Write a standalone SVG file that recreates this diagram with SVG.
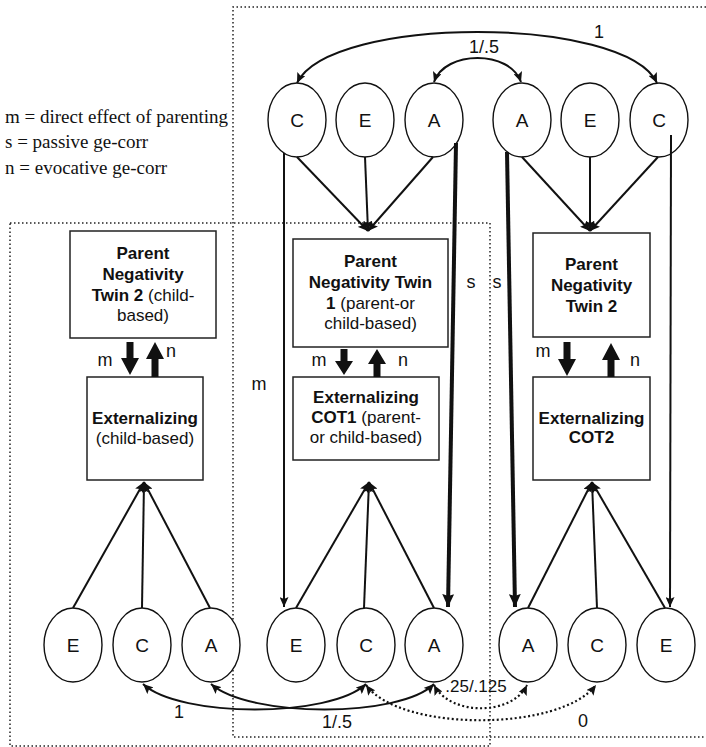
<svg xmlns="http://www.w3.org/2000/svg" width="706" height="747" viewBox="0 0 706 747">
<style>
.dotb{fill:none;stroke:#222;stroke-width:1.5;stroke-dasharray:1.5 2.5}
.ell{fill:#fff;stroke:#111;stroke-width:1.4}
.box{fill:#fff;stroke:#222;stroke-width:1.5}
.ln{fill:none;stroke:#111;stroke-width:2}
.thk{fill:none;stroke:#111;stroke-width:4}
.dl{fill:none;stroke:#111;stroke-width:2.2;stroke-dasharray:2 2.5}
.big{fill:#111;stroke:none}
.t{font-family:"Liberation Sans",Arial,Helvetica,sans-serif;fill:#111}
.el{font-size:19px;text-anchor:middle}
.lb{font-size:18px;text-anchor:middle}
.bx{font-size:17px;text-anchor:middle}
.b{font-weight:bold}
.leg{font-family:"Liberation Serif","Times New Roman",serif;font-size:19px;fill:#111}
</style>
<defs>
<marker id="ah" markerUnits="userSpaceOnUse" markerWidth="11" markerHeight="9" refX="10" refY="4.5" orient="auto-start-reverse" viewBox="0 0 11 9">
<path d="M0,0 L10,4.5 L0,9 L2,4.5 z" fill="#111"/>
</marker>
<marker id="ahT" markerUnits="userSpaceOnUse" markerWidth="14" markerHeight="12" refX="13" refY="6" orient="auto" viewBox="0 0 14 12">
<path d="M0,0 L13,6 L0,12 L2,6 z" fill="#111"/>
</marker>
</defs>

<!-- dotted grouping frames -->
<g id="frames">
<path class="dotb" d="M710,7 L233,7 L233,737 L710,737"/>
<rect class="dotb" x="10" y="223" width="480" height="523"/>
</g>

<!-- legend -->
<g id="legend">
<text class="leg" x="5" y="123">m = direct effect of parenting</text>
<text class="leg" x="5" y="148">s = passive ge-corr</text>
<text class="leg" x="5" y="174">n = evocative ge-corr</text>
</g>

<!-- top latent factors -->
<g id="top-C1"><ellipse class="ell" cx="297" cy="120" rx="29" ry="37"/><text class="t el" x="297" y="127">C</text></g>
<g id="top-E1"><ellipse class="ell" cx="365" cy="120" rx="29" ry="37"/><text class="t el" x="365" y="127">E</text></g>
<g id="top-A1"><ellipse class="ell" cx="434" cy="120" rx="29" ry="37"/><text class="t el" x="434" y="127">A</text></g>
<g id="top-A2"><ellipse class="ell" cx="522" cy="120" rx="29" ry="37"/><text class="t el" x="522" y="127">A</text></g>
<g id="top-E2"><ellipse class="ell" cx="590" cy="120" rx="29" ry="37"/><text class="t el" x="590" y="127">E</text></g>
<g id="top-C2"><ellipse class="ell" cx="659" cy="120" rx="29" ry="37"/><text class="t el" x="659" y="127">C</text></g>

<!-- bottom latent factors -->
<g id="bot-E0"><ellipse class="ell" cx="73" cy="645" rx="29" ry="37"/><text class="t el" x="73" y="652">E</text></g>
<g id="bot-C0"><ellipse class="ell" cx="142" cy="645" rx="29" ry="37"/><text class="t el" x="142" y="652">C</text></g>
<g id="bot-A0"><ellipse class="ell" cx="211" cy="645" rx="29" ry="37"/><text class="t el" x="211" y="652">A</text></g>
<g id="bot-E1"><ellipse class="ell" cx="296" cy="645" rx="29" ry="37"/><text class="t el" x="296" y="652">E</text></g>
<g id="bot-C1"><ellipse class="ell" cx="366" cy="645" rx="29" ry="37"/><text class="t el" x="366" y="652">C</text></g>
<g id="bot-A1"><ellipse class="ell" cx="434" cy="645" rx="29" ry="37"/><text class="t el" x="434" y="652">A</text></g>
<g id="bot-A2"><ellipse class="ell" cx="528" cy="645" rx="29" ry="37"/><text class="t el" x="528" y="652">A</text></g>
<g id="bot-C2"><ellipse class="ell" cx="597" cy="645" rx="29" ry="37"/><text class="t el" x="597" y="652">C</text></g>
<g id="bot-E2"><ellipse class="ell" cx="666" cy="645" rx="29" ry="37"/><text class="t el" x="666" y="652">E</text></g>

<!-- boxes -->
<g id="pn-twin2-child">
<rect class="box" x="70" y="231" width="146" height="107"/>
<text class="t bx b" x="143" y="259">Parent</text>
<text class="t bx b" x="143" y="280">Negativity</text>
<text class="t bx" x="143" y="301"><tspan class="b">Twin 2</tspan> (child-</text>
<text class="t bx" x="143" y="321">based)</text>
</g>
<g id="ext-child">
<rect class="box" x="87" y="377" width="116" height="103"/>
<text class="t bx b" x="145" y="424">Externalizing</text>
<text class="t bx" x="145" y="444">(child-based)</text>
</g>
<g id="pn-twin1">
<rect class="box" x="293" y="239" width="155" height="108"/>
<text class="t bx b" x="370.5" y="267">Parent</text>
<text class="t bx b" x="370.5" y="288">Negativity Twin</text>
<text class="t bx" x="370.5" y="309"><tspan class="b">1</tspan> (parent-or</text>
<text class="t bx" x="370.5" y="329">child-based)</text>
</g>
<g id="ext-cot1">
<rect class="box" x="293" y="377" width="146" height="83"/>
<text class="t bx b" x="366" y="403">Externalizing</text>
<text class="t bx" x="366" y="423"><tspan class="b">COT1</tspan> (parent-</text>
<text class="t bx" x="366" y="443">or child-based)</text>
</g>
<g id="pn-twin2">
<rect class="box" x="533" y="233" width="117" height="104"/>
<text class="t bx b" x="591.5" y="270">Parent</text>
<text class="t bx b" x="591.5" y="291">Negativity</text>
<text class="t bx b" x="591.5" y="312">Twin 2</text>
</g>
<g id="ext-cot2">
<rect class="box" x="533" y="377" width="117" height="103"/>
<text class="t bx b" x="591.5" y="424">Externalizing</text>
<text class="t bx b" x="591.5" y="443">COT2</text>
</g>

<!-- connectors -->
<g id="connectors">
<!-- top loadings -->
<path class="ln" d="M297,157 L368,231" marker-end="url(#ah)"/>
<path class="ln" d="M365,157 L368,231" marker-end="url(#ah)"/>
<path class="ln" d="M433,157 L368,231" marker-end="url(#ah)"/>
<path class="ln" d="M522,157 L590,231" marker-end="url(#ah)"/>
<path class="ln" d="M590,157 L590,231" marker-end="url(#ah)"/>
<path class="ln" d="M658,157 L590,231" marker-end="url(#ah)"/>
<!-- bottom loadings -->
<path class="ln" d="M73,608 L144,482" marker-end="url(#ah)"/>
<path class="ln" d="M142,608 L144,482" marker-end="url(#ah)"/>
<path class="ln" d="M210,608 L144,482" marker-end="url(#ah)"/>
<path class="ln" d="M296,608 L369,482" marker-end="url(#ah)"/>
<path class="ln" d="M364,608 L369,482" marker-end="url(#ah)"/>
<path class="ln" d="M434,608 L369,482" marker-end="url(#ah)"/>
<path class="ln" d="M528,608 L592,482" marker-end="url(#ah)"/>
<path class="ln" d="M597,608 L592,482" marker-end="url(#ah)"/>
<path class="ln" d="M665,608 L592,482" marker-end="url(#ah)"/>
<!-- long paths -->
<path class="ln" d="M284,153 L284,607" marker-end="url(#ah)"/>
<path class="thk" d="M456,143 L448,607" marker-end="url(#ahT)"/>
<path class="thk" d="M507,152 L515,607" marker-end="url(#ahT)"/>
<path class="ln" d="M671,135 L670,607" marker-end="url(#ah)"/>
<!-- top correlations -->
<path class="ln" d="M297,83 C330,15 625,15 657,83" marker-start="url(#ah)" marker-end="url(#ah)"/>
<path class="ln" d="M434,82 C445,50 510,50 521,82" marker-start="url(#ah)" marker-end="url(#ah)"/>
<!-- bottom correlations -->
<path class="ln" d="M143,684 C180,718 330,718 366,684" marker-start="url(#ah)" marker-end="url(#ah)"/>
<path class="ln" d="M211,684 C250,718 400,718 434,684" marker-start="url(#ah)" marker-end="url(#ah)"/>
<path class="dl" d="M434,685 C450,716 512,716 527,685" marker-start="url(#ah)" marker-end="url(#ah)"/>
<path class="dl" d="M366,685 C400,732 560,732 596,685" marker-start="url(#ah)" marker-end="url(#ah)"/>
<!-- m / n thick arrows -->
<path class="big" d="M126.5,342 H133.5 V358 H139 L130,375 L121,358 H126.5 Z"/>
<path class="big" d="M151.5,377 H158.5 V359 H164 L155,342 L146,359 H151.5 Z"/>
<path class="big" d="M340.5,349 H347.5 V361 H353 L344,375 L335,361 H340.5 Z"/>
<path class="big" d="M373.5,377 H380.5 V364 H386 L377,349 L368,364 H373.5 Z"/>
<path class="big" d="M563.5,342 H570.5 V359 H576 L567,376 L558,359 H563.5 Z"/>
<path class="big" d="M607.5,377 H614.5 V360 H620 L611,343 L602,360 H607.5 Z"/>
</g>

<!-- labels -->
<g id="labels">
<text class="t lb" x="599" y="38">1</text>
<text class="t lb" x="484" y="53">1/.5</text>
<text class="t lb" x="471" y="288">s</text>
<text class="t lb" x="497" y="288">s</text>
<text class="t lb" x="259" y="390">m</text>
<text class="t lb" x="105" y="366">m</text>
<text class="t lb" x="171" y="357">n</text>
<text class="t lb" x="319" y="366">m</text>
<text class="t lb" x="403" y="366">n</text>
<text class="t lb" x="543" y="357">m</text>
<text class="t lb" x="635" y="366">n</text>
<text class="t lb" x="179" y="718">1</text>
<text class="t lb" x="337" y="728">1/.5</text>
<text class="t bx" x="476" y="692">.25/.125</text>
<text class="t lb" x="583" y="727">0</text>
</g>
</svg>
